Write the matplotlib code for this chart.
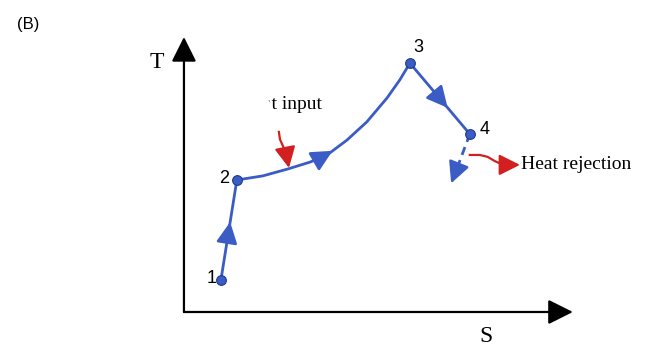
import matplotlib
matplotlib.use("Agg")
from matplotlib import pyplot as plt
from matplotlib.patches import Ellipse

# State points of the cycle (S, T in arbitrary units) #
state_labels = ["1", "2", "3", "4"]
state_S = [0.95, 1.36, 5.81, 7.35]
state_T = [1.16, 4.80, 9.05, 6.47]

# Heat addition curve 2 -> 3 #
curve_S = [1.36, 2.03, 2.67, 3.24, 3.68, 4.19, 4.70, 5.22, 5.55, 5.81]
curve_T = [4.80, 4.95, 5.20, 5.45, 5.71, 6.25, 6.91, 7.78, 8.44, 9.05]

# Heat rejection (dashed) 4 -> end #
reject_S = [7.35, 6.89]
reject_T = [6.47, 4.73]

# Red heat arrows #
qin_S = [2.44, 2.47, 2.55, 2.63, 2.70]
qin_T = [6.55, 6.27, 6.02, 5.75, 5.24]
qout_S = [7.35, 7.61, 7.81, 7.99, 8.20, 8.64]
qout_T = [5.71, 5.71, 5.64, 5.49, 5.35, 5.35]

blue = "#3a5cc4"
edge = "#1f3a8a"
red = "#d21f1f"

fig = plt.figure(figsize=(6.46, 3.47), dpi=100)
ax = fig.add_axes([0, 0, 1, 1])
ax.set_xlim(-4.73, 11.88)
ax.set_ylim(-1.273, 11.345)
ax.axis("off")


def head(tail, tip, color, scale=16, lw=1.9, z=4):
    ax.annotate("", xy=tip, xytext=tail,
                arrowprops=dict(arrowstyle="-|>,head_length=0.8,head_width=0.4",
                                mutation_scale=scale, color=color, lw=lw,
                                shrinkA=0, shrinkB=0), zorder=z)


def along(i, j, t):
    s = state_S[i] + t * (state_S[j] - state_S[i])
    tt = state_T[i] + t * (state_T[j] - state_T[i])
    return s, tt


# Axes arrows #
head((0, 0), (0, 10.0), "black", scale=19, lw=1.6)
head((0, 0), (10.0, 0), "black", scale=19, lw=1.6)
ax.text(-0.69, 9.09, "T", family="Liberation Serif", fontsize=17, ha="center", va="center")
ax.text(7.76, -0.9, "S", family="Liberation Serif", fontsize=17, ha="center", va="center")
ax.text(-4.29, 10.47, "(B)", family="Liberation Sans", fontsize=12, ha="left", va="center")

# Cycle lines #
ax.plot(state_S[:2], state_T[:2], color=blue, lw=2.0, zorder=3)
ax.plot(curve_S, curve_T, color=blue, lw=2.0, zorder=3, solid_joinstyle="round")
ax.plot(state_S[2:4], state_T[2:4], color=blue, lw=2.0, zorder=3)
ax.plot(reject_S, reject_T, color=blue, lw=2.0, ls=(0, (3, 2)), zorder=3)

# Direction arrows on the path #
head(along(0, 1, 0.45), along(0, 1, 0.58), blue)
head((3.50, 5.60), (3.82, 5.86), blue)
head(along(2, 3, 0.5), along(2, 3, 0.63), blue)
head((reject_S[1] + 0.05, reject_T[1] + 0.2), (reject_S[1] - 0.02, reject_T[1] - 0.05), blue)

# State points #
ax.plot(state_S, state_T, "o", color=blue, mec=edge, mew=0.8, ms=7, zorder=5)
label_pos = [(0.72, 1.20), (1.03, 4.84), (6.02, 9.60), (7.74, 6.62)]
for lab, (x, y) in zip(state_labels, label_pos):
    ax.text(x, y, lab, family="Liberation Sans", fontsize=13, ha="center", va="center")

# Heat input (label partly covered, as in the source figure) #
ax.text(3.55, 7.56, "Heat input", family="Liberation Serif", fontsize=14, ha="right", va="center", zorder=2)
ax.add_patch(Ellipse((1.39, 7.09), 1.85, 2.18, color="white", zorder=2.5))
ax.plot(qin_S[:-1], qin_T[:-1], color=red, lw=1.6, zorder=4)
head((qin_S[-2], qin_T[-2]), (qin_S[-1], qin_T[-1]), red, lw=1.6)

# Heat rejection #
ax.plot(qout_S[:-1], qout_T[:-1], color=red, lw=1.6, zorder=4)
head((qout_S[-2], qout_T[-2]), (qout_S[-1], qout_T[-1]), red, lw=1.6)
ax.text(8.66, 5.38, "Heat rejection", family="Liberation Serif", fontsize=14, ha="left", va="center")

fig.savefig("out.png", dpi=100)
